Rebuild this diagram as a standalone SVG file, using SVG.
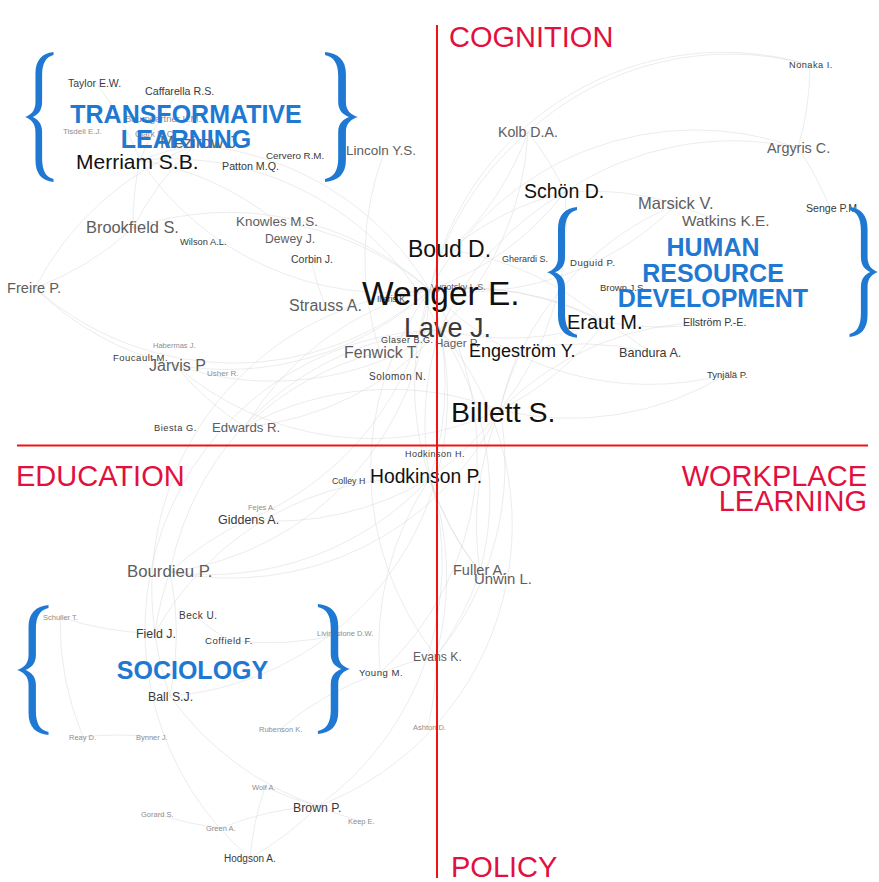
<svg xmlns="http://www.w3.org/2000/svg" xmlns:xlink="http://www.w3.org/1999/xlink" width="879" height="882" viewBox="0 0 879 882">
<style>
text{font-family:"Liberation Sans",Arial,Helvetica,sans-serif}
.k{fill:#111}.d{fill:#3a3a3a}.g{fill:#5e5e5e}.f{fill:#8e8e8e}.s{letter-spacing:0.5px}
.q{fill:#e2103e;font-size:29px}
.b{fill:#1f78d1;font-weight:bold;font-size:25px;text-anchor:middle}
.br{fill:#1f78d1}
.ax{stroke:#ee1414;stroke-width:2;fill:none}
.e path{fill:none;stroke:#d4d4d4;stroke-width:0.8;opacity:0.55}
</style>
<defs>
<path id="brace" d="M30,0 C18,1 11,8 11,22 L11,50 C11,59 6,63 0,65 C6,67 11,71 11,80 L11,108 C11,122 18,129 30,130 L30,127 C22,125 18,119 18,106 L18,80 C18,71 13,67 8,65 C13,63 18,59 18,50 L18,24 C18,11 22,5 30,3 Z"/>
</defs>
<rect width="879" height="882" fill="#fff"/>
<g id="connectors" class="e">
<path d="M430,290 A300,300 0 0 1 140,160"/><path d="M430,290 A300,300 0 0 0 195,145"/><path d="M430,290 A300,300 0 0 1 175,365"/>
<path d="M430,290 A300,300 0 0 0 245,427"/><path d="M430,290 A300,300 0 0 1 170,572"/><path d="M430,290 A300,300 0 0 0 155,633"/>
<path d="M430,290 A300,300 0 0 1 430,478"/><path d="M430,290 A300,300 0 0 0 480,572"/><path d="M430,290 A300,300 0 0 1 605,322"/>
<path d="M430,290 A300,300 0 0 0 565,192"/><path d="M430,290 A300,300 0 0 1 528,132"/><path d="M430,290 A300,300 0 0 1 798,148"/>
<path d="M430,290 A300,300 0 0 0 677,204"/><path d="M430,290 A300,300 0 0 1 810,65"/><path d="M430,290 A300,300 0 0 0 133,228"/>
<path d="M430,290 A300,300 0 0 1 35,288"/><path d="M430,290 A300,300 0 0 0 277,222"/><path d="M430,290 A300,300 0 0 1 248,520"/>
<path d="M430,290 A300,300 0 0 0 436,656"/><path d="M430,290 A300,300 0 0 1 380,673"/><path d="M430,290 A300,300 0 0 0 727,374"/>
<path d="M430,290 A300,300 0 0 1 650,352"/>
<path d="M440,330 A300,300 0 0 0 140,160"/><path d="M440,330 A300,300 0 0 1 175,365"/><path d="M440,330 A300,300 0 0 1 245,427"/>
<path d="M440,330 A300,300 0 0 0 430,478"/><path d="M440,330 A300,300 0 0 0 170,572"/><path d="M440,330 A300,300 0 0 1 480,572"/>
<path d="M440,330 A300,300 0 0 0 605,322"/><path d="M440,330 A300,300 0 0 1 565,192"/><path d="M440,330 A300,300 0 0 0 528,132"/>
<path d="M440,330 A300,300 0 0 1 318,806"/><path d="M440,330 A300,300 0 0 0 250,858"/><path d="M440,330 A300,300 0 0 1 170,696"/>
<path d="M500,410 A300,300 0 0 0 605,322"/><path d="M500,410 A300,300 0 0 1 520,350"/><path d="M500,410 A300,300 0 0 1 430,478"/>
<path d="M500,410 A300,300 0 0 0 480,572"/><path d="M500,410 A300,300 0 0 1 436,656"/><path d="M500,410 A300,300 0 0 0 727,374"/>
<path d="M500,410 A300,300 0 0 1 715,322"/><path d="M500,410 A300,300 0 0 1 170,572"/><path d="M500,410 A300,300 0 0 0 245,427"/>
<path d="M500,410 A300,300 0 0 1 175,365"/><path d="M500,410 A300,300 0 0 0 565,192"/><path d="M500,410 A300,300 0 0 1 677,204"/>
<path d="M430,478 A300,300 0 0 1 170,572"/><path d="M430,478 A300,300 0 0 0 155,633"/><path d="M430,478 A300,300 0 0 1 248,520"/>
<path d="M430,478 A300,300 0 0 0 480,572"/><path d="M430,478 A300,300 0 0 1 436,656"/><path d="M430,478 A300,300 0 0 0 380,673"/>
<path d="M430,478 A300,300 0 0 1 318,806"/>
<path d="M140,160 A300,300 0 0 1 195,145"/><path d="M140,160 A300,300 0 0 0 133,228"/><path d="M140,160 A300,300 0 0 1 277,222"/>
<path d="M140,160 A300,300 0 0 1 180,90"/><path d="M140,160 A300,300 0 0 0 96,83"/><path d="M195,145 A300,300 0 0 0 133,228"/>
<path d="M195,145 A300,300 0 0 0 35,288"/><path d="M175,365 A300,300 0 0 0 245,427"/><path d="M175,365 A300,300 0 0 1 35,288"/>
<path d="M170,572 A300,300 0 0 1 248,520"/><path d="M170,572 A300,300 0 0 0 155,633"/><path d="M170,572 A300,300 0 0 1 170,696"/>
<path d="M155,633 A300,300 0 0 0 170,696"/><path d="M155,633 A300,300 0 0 1 60,617"/><path d="M170,696 A300,300 0 0 0 318,806"/>
<path d="M318,806 A300,300 0 0 1 250,858"/><path d="M318,806 A300,300 0 0 0 221,828"/><path d="M318,806 A300,300 0 0 1 265,787"/>
<path d="M318,806 A300,300 0 0 0 360,821"/><path d="M158,814 A300,300 0 0 0 221,828"/><path d="M250,858 A300,300 0 0 1 265,787"/>
<path d="M380,673 A300,300 0 0 1 436,656"/><path d="M380,673 A300,300 0 0 0 280,729"/><path d="M436,656 A300,300 0 0 1 428,727"/>
<path d="M480,572 A300,300 0 0 1 436,656"/><path d="M565,192 A300,300 0 0 1 798,148"/><path d="M565,192 A300,300 0 0 0 528,132"/>
<path d="M565,192 A300,300 0 0 1 677,204"/><path d="M798,148 A300,300 0 0 0 810,65"/><path d="M798,148 A300,300 0 0 1 830,208"/>
<path d="M677,204 A300,300 0 0 0 725,222"/><path d="M520,350 A300,300 0 0 1 650,352"/><path d="M605,322 A300,300 0 0 0 715,322"/>
<path d="M450,250 A300,300 0 0 1 565,192"/><path d="M450,250 A300,300 0 0 0 528,132"/><path d="M450,250 A300,300 0 0 1 605,322"/>
<path d="M325,305 A300,300 0 0 1 311,260"/><path d="M380,352 A300,300 0 0 0 245,427"/><path d="M380,352 A300,300 0 0 1 385,150"/>
<path d="M83,737 A300,300 0 0 1 152,737"/><path d="M60,617 A300,300 0 0 0 83,737"/><path d="M345,633 A300,300 0 0 1 228,640"/>
<path d="M195,616 A300,300 0 0 0 228,640"/><path d="M133,228 A300,300 0 0 1 35,288"/><path d="M810,65 A300,300 0 0 0 528,132"/>
</g>
<g id="nodes">
<g id="n-taylor"><text x="68" y="87" font-size="10.5" class="d">Taylor E.W.</text></g>
<g id="n-caffarella"><text x="145" y="95" font-size="10.7" class="d">Caffarella R.S.</text></g>
<g id="n-baumgartner"><text x="125" y="122" font-size="9.5" class="f">Baumgartner L.M.</text></g>
<g id="n-tisdell"><text x="63" y="134" font-size="8" class="f">Tisdell E.J.</text></g>
<g id="n-clark"><text x="135" y="137" font-size="8.5" class="f">Clark M.C.</text></g>
<g id="n-mezirow"><text x="160" y="148" font-size="17" class="g">Mezirow J.</text></g>
<g id="n-merriam"><text x="76" y="169" font-size="21" class="k">Merriam S.B.</text></g>
<g id="n-cervero"><text x="266" y="159" font-size="9.8" class="d">Cervero R.M.</text></g>
<g id="n-patton"><text x="222" y="170" font-size="10.7" class="d">Patton M.Q.</text></g>
<g id="n-lincoln"><text x="346" y="155" font-size="13.5" class="g">Lincoln Y.S.</text></g>
<g id="n-kolb"><text x="498" y="137" font-size="14.2" class="g">Kolb D.A.</text></g>
<g id="n-schon"><text x="524" y="198" font-size="19.5" class="k">Schön D.</text></g>
<g id="n-nonaka"><text x="789" y="68" font-size="9.2" class="d s">Nonaka I.</text></g>
<g id="n-argyris"><text x="767" y="153" font-size="14.4" class="g">Argyris C.</text></g>
<g id="n-marsick"><text x="638" y="209" font-size="16.5" class="g">Marsick V.</text></g>
<g id="n-watkins"><text x="682" y="226" font-size="15.4" class="g">Watkins K.E.</text></g>
<g id="n-senge"><text x="806" y="212" font-size="10.6" class="d">Senge P.M.</text></g>
<g id="n-duguid"><text x="570" y="266" font-size="9.6" class="d s">Duguid P.</text></g>
<g id="n-brownjs"><text x="600" y="291" font-size="9.5" class="d">Brown J.S.</text></g>
<g id="n-eraut"><text x="567" y="329" font-size="20" class="k">Eraut M.</text></g>
<g id="n-ellstrom"><text x="683" y="326" font-size="10.6" class="d">Ellström P.-E.</text></g>
<g id="n-bandura"><text x="619" y="357" font-size="12.6" class="d">Bandura A.</text></g>
<g id="n-tynjala"><text x="707" y="378" font-size="9.5" class="d">Tynjälä P.</text></g>
<g id="n-gherardi"><text x="502" y="262" font-size="9" class="d">Gherardi S.</text></g>
<g id="n-boud"><text x="408" y="257" font-size="23" class="k">Boud D.</text></g>
<g id="n-illeris"><text x="377" y="302" font-size="8.5" class="d">Illeris K.</text></g>
<g id="n-vygotsky"><text x="431" y="290" font-size="9" class="g">Vygotsky L.S.</text></g>
<g id="n-wenger"><text x="362" y="305" font-size="33.5" class="k">Wenger E.</text></g>
<g id="n-glaser"><text x="381" y="343" font-size="9" class="d s">Glaser B.G.</text></g>
<g id="n-hager"><text x="435" y="347" font-size="11.6" class="g">Hager P.</text></g>
<g id="n-lave"><text x="404" y="337" font-size="27" class="d">Lave J.</text></g>
<g id="n-engestrom"><text x="469" y="357" font-size="18" class="k">Engeström Y.</text></g>
<g id="n-fenwick"><text x="344" y="358" font-size="16" class="g">Fenwick T.</text></g>
<g id="n-solomon"><text x="369" y="380" font-size="10" class="d s">Solomon N.</text></g>
<g id="n-billett"><text x="451" y="422" font-size="28.5" class="k">Billett S.</text></g>
<g id="n-brookfield"><text x="86" y="233" font-size="16.4" class="g">Brookfield S.</text></g>
<g id="n-wilson"><text x="180" y="245" font-size="9.3" class="d">Wilson A.L.</text></g>
<g id="n-knowles"><text x="236" y="226" font-size="13.4" class="g">Knowles M.S.</text></g>
<g id="n-dewey"><text x="265" y="243" font-size="12.2" class="g">Dewey J.</text></g>
<g id="n-corbin"><text x="291" y="263" font-size="10.5" class="d">Corbin J.</text></g>
<g id="n-freire"><text x="7" y="293" font-size="14.6" class="g">Freire P.</text></g>
<g id="n-strauss"><text x="289" y="311" font-size="16" class="g">Strauss A.</text></g>
<g id="n-habermas"><text x="153" y="348" font-size="7.5" class="f">Habermas J.</text></g>
<g id="n-foucault"><text x="113" y="361" font-size="9.5" class="d s">Foucault M.</text></g>
<g id="n-jarvis"><text x="149" y="371" font-size="16" class="g">Jarvis P</text></g>
<g id="n-usher"><text x="207" y="376" font-size="8" class="f">Usher R.</text></g>
<g id="n-biesta"><text x="154" y="431" font-size="9.3" class="d s">Biesta G.</text></g>
<g id="n-edwards"><text x="212" y="432" font-size="13.2" class="g">Edwards R.</text></g>
<g id="n-hodkinsonh"><text x="405" y="457" font-size="9" class="d s">Hodkinson H.</text></g>
<g id="n-colley"><text x="332" y="484" font-size="8.8" class="d">Colley H</text></g>
<g id="n-hodkinsonp"><text x="370" y="483" font-size="19.3" class="k">Hodkinson P.</text></g>
<g id="n-fejes"><text x="248" y="510" font-size="7.5" class="f">Fejes A.</text></g>
<g id="n-giddens"><text x="218" y="524" font-size="12.5" class="d">Giddens A.</text></g>
<g id="n-bourdieu"><text x="127" y="577" font-size="16.8" class="g">Bourdieu P.</text></g>
<g id="n-fuller"><text x="453" y="575" font-size="14.5" class="g">Fuller A.</text></g>
<g id="n-unwin"><text x="474" y="584" font-size="14.9" class="g">Unwin L.</text></g>
<g id="n-schuller"><text x="43" y="620" font-size="7.5" class="f">Schuller T.</text></g>
<g id="n-beck"><text x="179" y="619" font-size="10" class="d s">Beck U.</text></g>
<g id="n-field"><text x="136" y="638" font-size="12.4" class="d">Field J.</text></g>
<g id="n-coffield"><text x="205" y="644" font-size="9.6" class="d s">Coffield F.</text></g>
<g id="n-livingstone"><text x="317" y="636" font-size="7.5" class="f">Livingstone D.W.</text></g>
<g id="n-evans"><text x="413" y="661" font-size="12.2" class="g">Evans K.</text></g>
<g id="n-young"><text x="359" y="676" font-size="9.6" class="d s">Young M.</text></g>
<g id="n-ball"><text x="148" y="701" font-size="12.3" class="d">Ball S.J.</text></g>
<g id="n-rubenson"><text x="259" y="732" font-size="7.5" class="f">Rubenson K.</text></g>
<g id="n-ashton"><text x="413" y="730" font-size="7.5" class="f">Ashton D.</text></g>
<g id="n-reay"><text x="69" y="740" font-size="7.5" class="f">Reay D.</text></g>
<g id="n-bynner"><text x="136" y="740" font-size="7.5" class="f">Bynner J.</text></g>
<g id="n-wolf"><text x="252" y="790" font-size="7.5" class="f">Wolf A.</text></g>
<g id="n-brownp"><text x="293" y="812" font-size="12.3" class="d">Brown P.</text></g>
<g id="n-keep"><text x="348" y="824" font-size="7.5" class="f">Keep E.</text></g>
<g id="n-gorard"><text x="141" y="817" font-size="7.5" class="f">Gorard S.</text></g>
<g id="n-green"><text x="206" y="831" font-size="7.5" class="f">Green A.</text></g>
<g id="n-hodgson"><text x="224" y="862" font-size="10" class="d">Hodgson A.</text></g>
</g>
<g id="clusters">
<g id="c-transformative">
<use href="#brace" class="br" transform="translate(25,52) scale(0.95,1)"/>
<use href="#brace" class="br" transform="translate(358,52) scale(-1.1,1)"/>
<text x="186" y="123" class="b">TRANSFORMATIVE</text>
<text x="186" y="148" class="b">LEARNING</text>
</g>
<g id="c-hrd">
<use href="#brace" class="br" transform="translate(547,207) scale(1,1.005)"/>
<use href="#brace" class="br" transform="translate(878,207) scale(-0.95,1)"/>
<text x="713" y="256" class="b">HUMAN</text>
<text x="713" y="282" class="b">RESOURCE</text>
<text x="713" y="307" class="b">DEVELOPMENT</text>
</g>
<g id="c-sociology">
<use href="#brace" class="br" transform="translate(17,605) scale(1.05,1)"/>
<use href="#brace" class="br" transform="translate(350,604) scale(-1.07,1)"/>
<text x="192.5" y="679" class="b">SOCIOLOGY</text>
</g>
</g>
<g id="axes">
<line class="ax" x1="437" y1="25" x2="437" y2="878"/>
<line class="ax" x1="17" y1="445.5" x2="868" y2="445.5"/>
<text x="449" y="47" class="q">COGNITION</text>
<text x="16" y="486" class="q" font-size="28.5">EDUCATION</text>
<text x="867" y="486" class="q" text-anchor="end">WORKPLACE</text>
<text x="867" y="511" class="q" text-anchor="end">LEARNING</text>
<text x="451" y="877" class="q">POLICY</text>
</g>
</svg>
